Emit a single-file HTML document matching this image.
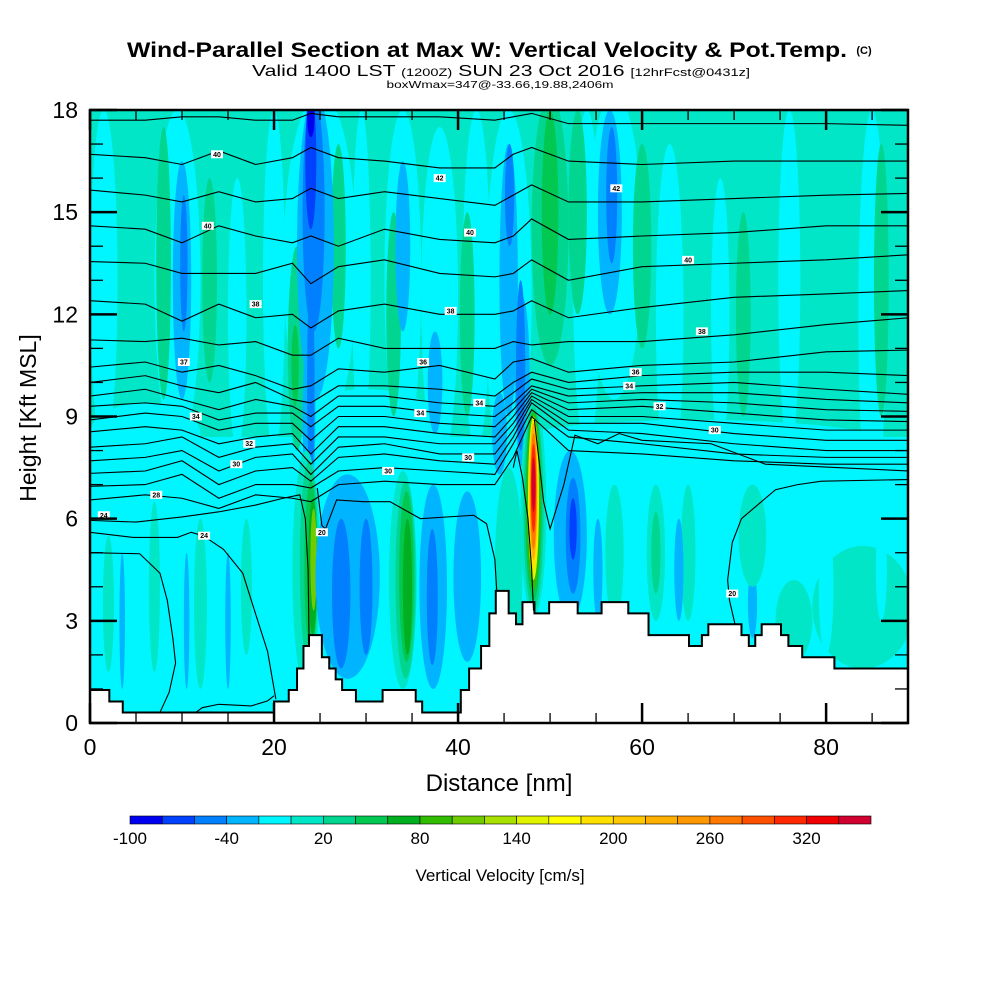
<!DOCTYPE html>
<html><head><meta charset="utf-8">
<style>
html,body{margin:0;padding:0;background:#fff;}
svg{display:block;font-family:"Liberation Sans",sans-serif;}
</style></head>
<body>
<svg id="chart" width="1000" height="1000" viewBox="0 0 1000 1000" xmlns="http://www.w3.org/2000/svg">
<rect x="0" y="0" width="1000" height="1000" fill="#fff"/>
<text x="487" y="57" text-anchor="middle" font-size="21" font-weight="bold" textLength="720" lengthAdjust="spacingAndGlyphs">Wind-Parallel Section at Max W: Vertical Velocity &amp; Pot.Temp.</text>
<text x="864" y="54" text-anchor="middle" font-size="11" font-weight="bold">(C)</text>
<text x="501" y="76" text-anchor="middle" font-size="16" textLength="498" lengthAdjust="spacingAndGlyphs">Valid 1400 LST <tspan font-size="11">(1200Z)</tspan> SUN 23 Oct 2016 <tspan font-size="11">[12hrFcst@0431z]</tspan></text>
<text x="500" y="88" text-anchor="middle" font-size="10" textLength="227" lengthAdjust="spacingAndGlyphs">boxWmax=347@-33.66,19.88,2406m</text>
<defs><clipPath id="plotclip"><rect x="90" y="110" width="818" height="613"/></clipPath></defs>
<g id="field" clip-path="url(#plotclip)"></g>
<g id="terrain" clip-path="url(#plotclip)"></g>
<g id="contours" clip-path="url(#plotclip)"></g>
<g id="clabels" clip-path="url(#plotclip)"></g>
<g id="axes"></g>
<g id="cbar"></g>
<text x="499" y="791" text-anchor="middle" font-size="24">Distance [nm]</text>
<text x="0" y="0" transform="translate(36,418) rotate(-90)" text-anchor="middle" font-size="23">Height [Kft MSL]</text>
<text x="500" y="881" text-anchor="middle" font-size="17">Vertical Velocity [cm/s]</text>
</svg>
<script>
// ---------- data ----------
const paletteLevels = [-100,-80,-60,-40,-20,0,20,40,60,80,100,120,140,160,180,200,220,240,260,280,300,320,340];
const paletteColors = ["#0000f0","#0040ff","#0080ff","#00b4ff","#00f6ff","#00e6c6","#00d690","#00c850","#00b020","#30bc00","#70cc00","#a8e000","#e0f400","#ffff00","#ffe000","#ffc800","#ffb000","#ff9800","#ff7800","#ff5000","#ff2800","#f00000","#d00030"];
const cbarLabels = [-100,-40,20,80,140,200,260,320];
const xTicks = [0,20,40,60,80];
const yTicks = [0,3,6,9,12,15,18];
// rectangular bands [x0,x1,y0,y1,w]
const bands = [[0,89,8.4,18,10]];
// velocity cells [xc, yc, rx, ry, w]
const cells = [
[6,8.5,6,0.9,-10],[30,8.9,8,0.9,-10],[66,8.1,22,0.8,-10],
[1.5,13,1.5,5,-10],[9.5,13,2.5,5,-10],[16,12,1,4,-10],[20,13,1.2,5,-10],[25,13.5,4,5,-10],[29.5,13,1,5,-10],
[34,13,2,5,-10],[38,12.5,2,5,-10],[42,13,1.5,5,-10],[45.5,12.5,2.5,5.5,-10],[54,13,1.5,5,-10],[57,14,3,4.5,-10],
[63,12,1.5,5,-10],[68.5,12,1,4,-10],[76,13,1.2,5,-10],[85,12,1.5,6,-10],
[22.5,11,1,3,30],[8,13.5,0.8,4,30],[13,13,0.8,3,30],[27,14,0.8,3,30],[33,12,0.8,3,30],[41,12,0.8,3,30],
[50,14.5,2,4,30],[53,15,1,3,30],[60,14,1,3,30],[86,13,0.8,4,30],[71,12,0.8,3,30],
[50,15,0.9,3,50],[22.3,10.5,0.4,1.2,50],
[10,13,1,3.5,-30],[24.5,14,2,4.5,-30],[23.8,9,0.7,2.5,-30],[34,14,0.8,2.5,-30],[37.5,10,0.8,1.5,-30],
[45.5,13,1,4,-30],[44.5,8.5,0.8,1.2,-30],[47,10,0.8,2.5,-30],[56.5,15,1.3,3,-30],
[10.2,13.5,0.4,2,-50],[24.3,15,1.2,3.5,-50],[24,10,0.4,3,-50],[46.8,10.5,0.5,2.5,-50],[45.6,15.5,0.5,1.5,-50],[56.7,15.5,0.6,2,-50],
[24,16.5,0.6,2,-70],[24,17.8,0.4,0.6,-90],
[2,3.5,0.6,2,10],[7,4,0.6,2.5,10],[12,3.5,0.7,2.5,10],[17,4,0.6,2,10],
[3.5,3,0.3,2,-30],[10.5,3,0.3,2,-30],[15,3,0.3,2,-30],
[23.5,4.5,1.5,3.5,10],[23.8,4.7,1,3,30],[24,4.6,0.7,2.5,50],[24.2,4.6,0.5,2,70],[24.3,4.8,0.35,1.5,110],
[28,4.3,3.5,3,-30],[27.3,3.8,1,2.2,-50],[30,4,0.7,2,-50],
[34,4.2,1.5,3.2,10],[34.3,4.2,1.1,2.9,30],[34.4,4.3,0.8,2.5,50],[34.5,4.0,0.5,2,70],
[37.3,4,1.5,3,-30],[37.2,3.7,0.6,2,-50],[41,4.3,1.5,2.5,-30],
[45.5,4.5,1.5,3,10],
[48.2,6.3,1.4,3.2,10],[48.2,6.3,1.1,3,30],[48.2,6.4,0.9,2.8,50],[48.2,6.5,0.75,2.6,90],[48.2,6.6,0.6,2.4,150],
[48.2,6.7,0.5,2.2,190],[48.2,6.8,0.42,2.0,230],[48.2,6.8,0.35,1.7,270],[48.2,6.9,0.28,1.3,310],[48.2,7.0,0.2,0.8,340],
[52.2,5.5,1.8,2.5,-30],[52.5,5.5,0.8,1.7,-50],[52.5,5.7,0.4,0.9,-70],
[57,5,1,2,10],[55.2,4.5,0.5,1.5,-30],[61.5,5,1,2,10],[65,5,0.8,2,10],[61.5,5,0.5,1.2,30],[64,4.5,0.5,1.5,-30],[72,3.5,0.5,1,-30],
[84,3.4,5.5,1.8,10],[76.5,3.0,2,1.2,10],[80,4,0.8,2,-10],[86,4.5,0.6,1.5,-10],[72,5.5,1.5,1.5,10]
];
// terrain steps [x start, height]
const terrainX = [0,2.1,3.56,20.0,21.6,22.5,23.2,23.8,25.2,26.0,26.7,27.4,28.9,31.8,35.4,36.1,40.3,41.2,42.5,43.4,44.1,45.5,46.3,47.0,48.3,49.9,53.0,55.6,58.5,60.7,65.1,66.5,67.2,70.8,71.6,72.3,73.0,75.1,75.9,77.4,80.9];
const terrainH = [0.97,0.63,0.31,0.63,0.97,1.6,2.26,2.58,1.93,1.6,1.28,0.97,0.63,0.97,0.63,0.31,0.97,1.6,2.26,3.22,3.88,3.22,2.9,3.55,3.22,3.55,3.22,3.55,3.22,2.58,2.26,2.58,2.9,2.58,2.26,2.58,2.9,2.58,2.26,1.93,1.6];
// theta contour heights at stations
const stations = [0,6,10,14,18,22,24,27,32,38,44,46,48,52,60,70,80,89];
const thetaLines = [
[17.7,17.7,17.8,17.8,17.7,17.7,17.9,17.8,17.8,17.8,17.7,17.8,17.9,17.6,17.6,17.6,17.6,17.55],
[16.7,16.6,16.4,16.8,16.4,16.6,16.9,16.6,16.5,16.3,16.3,16.7,16.9,16.5,16.4,16.5,16.5,16.5],
[15.65,15.5,15.3,15.6,15.3,15.4,15.7,15.4,15.6,15.4,15.2,15.5,15.8,15.3,15.3,15.4,15.5,15.55],
[14.6,14.5,14.1,14.6,14.3,14.1,14.3,14.0,14.5,14.2,14.1,14.3,14.8,14.2,14.3,14.4,14.6,14.6],
[13.55,13.5,13.2,13.2,13.2,13.5,12.9,13.4,13.6,13.2,13.1,13.2,13.6,13.0,13.4,13.5,13.6,13.75],
[12.4,12.3,11.8,12.3,11.9,12.0,11.6,12.1,12.3,12.0,12.0,12.1,12.4,11.9,12.2,12.5,12.6,12.7],
[11.25,11.2,11.3,11.1,11.2,10.8,10.8,11.3,11.0,11.0,11.0,11.2,11.1,11.2,11.2,11.4,11.7,11.9],
[10.45,10.6,10.3,10.5,10.2,9.8,9.9,10.4,10.3,10.5,10.1,10.6,10.7,10.3,10.5,10.6,10.9,10.95],
[10.0,10.2,9.9,9.7,10.0,9.5,9.4,9.9,9.9,9.8,9.6,10.0,10.3,10.0,10.2,10.3,10.3,10.2],
[9.6,9.8,9.5,9.2,9.5,9.3,9.0,9.6,9.6,9.4,9.3,9.7,10.1,9.8,9.9,10.0,9.8,9.65],
[9.3,9.4,9.3,8.9,9.1,9.1,8.7,9.3,9.3,9.1,9.0,9.4,9.9,9.6,9.7,9.7,9.5,9.4],
[8.9,9.1,9.0,8.6,8.8,8.8,8.3,9.0,9.0,8.8,8.7,9.2,9.8,9.4,9.5,9.4,9.2,9.15],
[8.55,8.7,8.6,8.2,8.4,8.5,7.9,8.7,8.7,8.5,8.4,9.0,9.7,9.2,9.3,9.1,8.9,8.85],
[8.1,8.2,8.4,7.8,8.1,8.2,7.6,8.4,8.4,8.2,8.2,8.8,9.6,9.0,9.0,8.8,8.6,8.6],
[7.7,7.8,8.0,7.4,7.8,7.9,7.3,8.1,8.2,7.9,7.9,8.6,9.5,8.8,8.8,8.5,8.3,8.3],
[7.33,7.4,7.7,7.0,7.4,7.5,7.1,7.8,7.9,7.7,7.6,8.4,9.4,8.6,8.5,8.2,8.0,8.0],
[6.95,7.0,7.3,6.6,7.0,7.0,6.9,7.4,7.5,7.4,7.3,8.2,9.2,8.4,8.2,7.9,7.8,7.8],
[6.55,6.7,6.6,6.3,6.7,6.6,6.5,7.0,7.1,7.0,7.0,7.8,9.0,8.0,7.9,7.7,7.6,7.6]
];
// extra contour polylines [x, kft]
const lowerContours = [
[[0,5.6],[4.7,5.45],[9.5,5.45],[11,5.6],[12.3,5.5],[14.5,5.1],[16.6,4.4],[18,3.2],[19.3,2.1],[20.2,0.7]],
[[0,5.0],[5.4,4.97],[7.6,4.4],[8.4,3.6],[9.0,2.5],[9.3,1.76],[8.6,0.9],[7.6,0.31]],
[[11.5,0.31],[12.2,0.45],[14,0.55],[17.5,0.5],[19.3,0.65],[20,0.8]],
[[0,5.95],[5,5.9],[10,6.05],[14,6.2],[18,6.4],[21,6.6],[22.8,6.7],[23.4,6.0],[23.7,4.5],[23.8,2.6]],
[[24.7,6.9],[25.2,5.8],[25.6,5.7],[26.8,6.55],[29.7,6.5],[32.6,6.5],[35.9,6.0],[41.7,6.1],[43.1,5.85],[44.0,4.8],[44.2,3.9]],
[[46.0,7.5],[46.4,8.0],[47.0,7.2],[47.6,6.0],[48.0,4.5],[48.2,3.3]],
[[48.3,8.9],[49.3,6.5],[50.0,5.7],[51.5,7.0],[52.7,8.45],[55.2,8.2],[57.5,8.5],[60,8.3],[67.5,8.2],[73.4,7.6],[89,7.4]],
[[70.1,2.9],[69.5,3.6],[69.3,4.2],[69.8,5.3],[70.8,6.0],[74.5,6.85],[76.9,7.0],[79.5,7.1],[89,7.15]]
];
const labelX = [13.8,38.0,57.2,12.8,41.3,65,18,39.2,66.5,10.2,36.2,59.3,11.5,42.3,58.6,35.9,17.3,61.9,15.9,41.1,32.4,67.9,7.2,1.5,12.4,25.2,69.8];
const labelY = [16.7,16.0,15.7,14.6,14.4,13.6,12.3,12.1,11.5,10.6,10.6,10.3,9.0,9.4,9.9,9.1,8.2,9.3,7.6,7.8,7.4,8.6,6.7,6.1,5.5,5.6,3.8];
const labelT = ["40","42","42","40","40","40","38","38","38","37","36","36","34","34","34","34","32","32","30","30","30","30","28","24","24","20","20"];

// ---------- axis functions ----------
const PX0=90, PX1=908, PY0=723, PY1=110, XMAX=88.9, YMAX=18;
const sx = v => PX0 + v/XMAX*(PX1-PX0);
const sy = v => PY0 - v/YMAX*(PY0-PY1);
const colorFor = w => { let i=0; for(let k=0;k<paletteLevels.length;k++){ if(w>=paletteLevels[k]) i=k; } return paletteColors[i]; };
const NS="http://www.w3.org/2000/svg";
function mk(tag, attrs, parent){ const e=document.createElementNS(NS,tag); for(const k in attrs) e.setAttribute(k,attrs[k]); parent.appendChild(e); return e; }

// field
const field=document.getElementById('field');
let bg=mk('rect',{x:PX0,y:PY1,width:PX1-PX0,height:PY0-PY1,fill:colorFor(-10)},field);


bands.forEach(b=>{
  const r=mk('rect',{x:sx(b[0]),y:sy(b[3]),width:sx(b[1])-sx(b[0]),height:sy(b[2])-sy(b[3]),fill:colorFor(b[4])},field);
  
  
});
cells.forEach(c=>{
  const e=mk('ellipse',{cx:sx(c[0]),cy:sy(c[1]),rx:sx(c[2])-sx(0),ry:sy(0)-sy(c[3]),fill:colorFor(c[4])},field);
  
  
});

// terrain
const tg=document.getElementById('terrain');
let d='M'+sx(0)+','+sy(0);
for(let i=0;i<terrainX.length;i++){
  const x0=terrainX[i], x1=(i+1<terrainX.length)?terrainX[i+1]:XMAX;
  d+=' L'+sx(x0)+','+sy(terrainH[i])+' L'+sx(x1)+','+sy(terrainH[i]);
}
d+=' L'+sx(XMAX)+','+sy(0)+' Z';
const tp=mk('path',{d:d,fill:'#fff',stroke:'#000','stroke-width':2},tg);



// contours
const cg=document.getElementById('contours');
thetaLines.forEach(line=>{
  const pts=line.map((h,i)=>sx(stations[i])+','+sy(h)).join(' ');
  const p=mk('polyline',{points:pts,fill:'none',stroke:'#000','stroke-width':1.1},cg);
  
  
});
lowerContours.forEach(line=>{
  const pts=line.map(q=>sx(q[0])+','+sy(q[1])).join(' ');
  const p=mk('polyline',{points:pts,fill:'none',stroke:'#000','stroke-width':1.1},cg);
  
  
});
// contour labels
const lg=document.getElementById('clabels');
labelX.forEach((x,i)=>{
  const r=mk('rect',{x:sx(x)-6,y:sy(labelY[i])-4,width:12,height:8,fill:'#fff'},lg);
  
  
  const t=mk('text',{x:sx(x),y:sy(labelY[i])+2.5,'text-anchor':'middle','font-size':7,'font-weight':'bold'},lg);
  t.textContent=labelT[i];
  
  
});

// axes
const ag=document.getElementById('axes');
const frame=mk('rect',{x:PX0,y:PY1,width:PX1-PX0,height:PY0-PY1,fill:'none',stroke:'#000','stroke-width':2.5},ag);


for(let v=0; v<=XMAX; v+=5){
  const major = xTicks.includes(v); const L = major?20:10;
  const a=mk('line',{x1:sx(v),x2:sx(v),y1:PY0,y2:PY0-L,stroke:'#000','stroke-width':major?2.5:1.3},ag);
  
  
  const b=mk('line',{x1:sx(v),x2:sx(v),y1:PY1,y2:PY1+L,stroke:'#000','stroke-width':major?2.5:1.3},ag);
  
  
}
xTicks.forEach(v=>{
  const t=mk('text',{x:sx(v),y:PY0+32,'text-anchor':'middle','font-size':23},ag);
  t.textContent=v;
  
  
});
for(let v=0; v<=YMAX; v+=1){
  const major = yTicks.includes(v); const L = major?27:13;
  const a=mk('line',{x1:PX0,x2:PX0+L,y1:sy(v),y2:sy(v),stroke:'#000','stroke-width':major?2.5:1.3},ag);
  
  
  const b=mk('line',{x1:PX1,x2:PX1-L,y1:sy(v),y2:sy(v),stroke:'#000','stroke-width':major?2.5:1.3},ag);
  
  
}
yTicks.forEach(v=>{
  const t=mk('text',{x:PX0-12,y:sy(v)+8,'text-anchor':'end','font-size':23},ag);
  t.textContent=v;
  
  
});

// colorbar
const cb=document.getElementById('cbar');
const CB0=130, CB1=871, CBY=816, CBH=8;
const cbx = v => CB0 + (v-paletteLevels[0])/(paletteLevels.length*20)*(CB1-CB0);
paletteColors.forEach((c,i)=>{
  const r=mk('rect',{x:cbx(paletteLevels[i]),y:CBY,width:cbx(paletteLevels[i]+20)-cbx(paletteLevels[i]),height:CBH,fill:c,stroke:'#000','stroke-width':0.6},cb);
  
  
});
cbarLabels.forEach(v=>{
  const t=mk('text',{x:cbx(v),y:844,'text-anchor':'middle','font-size':17},cb);
  t.textContent=v;
  
  
});
</script>
</body></html>
